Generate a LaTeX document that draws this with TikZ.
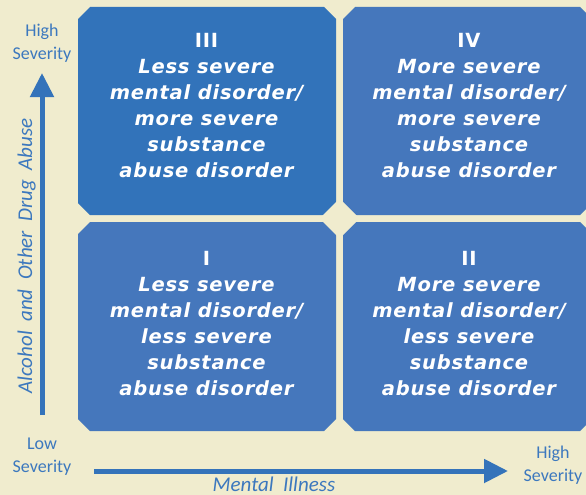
\documentclass[tikz,border=0pt]{standalone}
\usepackage{fontspec}
\newfontfamily\quadfont{DejaVu Sans}[
  BoldFont={DejaVu Sans Bold},
  BoldItalicFont={DejaVu Sans Bold Oblique},
  LetterSpace=4]
\newfontfamily\axisfont{Carlito}
\newfontfamily\axistitlefont{Carlito}[WordSpace=2]
\usepackage{xcolor}
\usetikzlibrary{arrows.meta, positioning}

\definecolor{bgcream}{RGB}{240,236,206}
\definecolor{quadblue}{RGB}{69,119,188}
\definecolor{darkquad}{RGB}{50,115,186}
\definecolor{axisblue}{RGB}{52,115,186}
\definecolor{labelblue}{RGB}{60,120,190}

\tikzset{
  quadtext/.style={anchor=north, align=center, text=white, inner sep=0pt,
    font=\quadfont\bfseries\itshape\fontsize{19.5}{26}\selectfont},
  sevlabel/.style={align=center, text=labelblue, inner sep=0pt,
    font=\axisfont\fontsize{18}{23}\selectfont},
  axislabel/.style={text=labelblue, inner sep=0pt,
    font=\axistitlefont\itshape\fontsize{21}{24}\selectfont},
  axisarrow/.style={draw=axisblue, line width=5pt, -{Triangle[length=24pt,width=23pt]}},
}

\begin{document}
\begin{tikzpicture}[x=1pt, y=-1pt]
\useasboundingbox (0,0) rectangle (586,495);
\clip (0,0) rectangle (586,495);
\fill[bgcream] (0,0) rectangle (586,495);

% quadrants: left, top, right, bottom, colour
\def\c{12}
\foreach \xa/\ya/\xb/\yb/\col in {78/7/336/215/darkquad, 343/7/592/215/quadblue,
    78/222/336/431/quadblue, 343/222/592/431/quadblue} {
  \fill[\col] (\xa+\c,\ya) -- (\xb-\c,\ya) -- (\xb,\ya+\c) -- (\xb,\yb-\c)
    -- (\xb-\c,\yb) -- (\xa+\c,\yb) -- (\xa,\yb-\c) -- (\xa,\ya+\c) -- cycle;
}
% notch where the four quadrants meet
\fill[bgcream] (319.5,218.5) -- (339.5,198.5) -- (359.5,218.5) -- (339.5,238.5) -- cycle;

\node[quadtext] (q3) at (206.5,33) {{\upshape III}\\Less severe\\mental disorder/\\more severe\\substance\\abuse disorder};
\node[quadtext] (q4) at (469,33) {{\upshape IV}\\More severe\\mental disorder/\\more severe\\substance\\abuse disorder};
\node[quadtext] (q1) at (206.5,251) {{\upshape I}\\Less severe\\mental disorder/\\less severe\\substance\\abuse disorder};
\node[quadtext] (q2) at (469,251) {{\upshape II}\\More severe\\mental disorder/\\less severe\\substance\\abuse disorder};

% axes
\node[sevlabel, anchor=north] (hightop) at (42,24) {High\\Severity};
\node[sevlabel, anchor=north] (lowsev) at (42,438) {Low\\Severity};
\node[sevlabel, anchor=north] (highright) at (553,446) {High\\Severity};
\coordinate (vtail) at (42,415);
\coordinate (vtip) at (42,73);
\coordinate (htail) at (94,471);
\coordinate (htip) at (508,471);
\draw[axisarrow] (vtail) -- (vtip);
\draw[axisarrow] (htail) -- (htip);
\node[axislabel, rotate=90, anchor=base] (yaxis) at (32,256) {Alcohol and Other Drug Abuse};
\node[axislabel, anchor=base] (xaxis) at (274,491) {Mental Illness};
\end{tikzpicture}
\end{document}
